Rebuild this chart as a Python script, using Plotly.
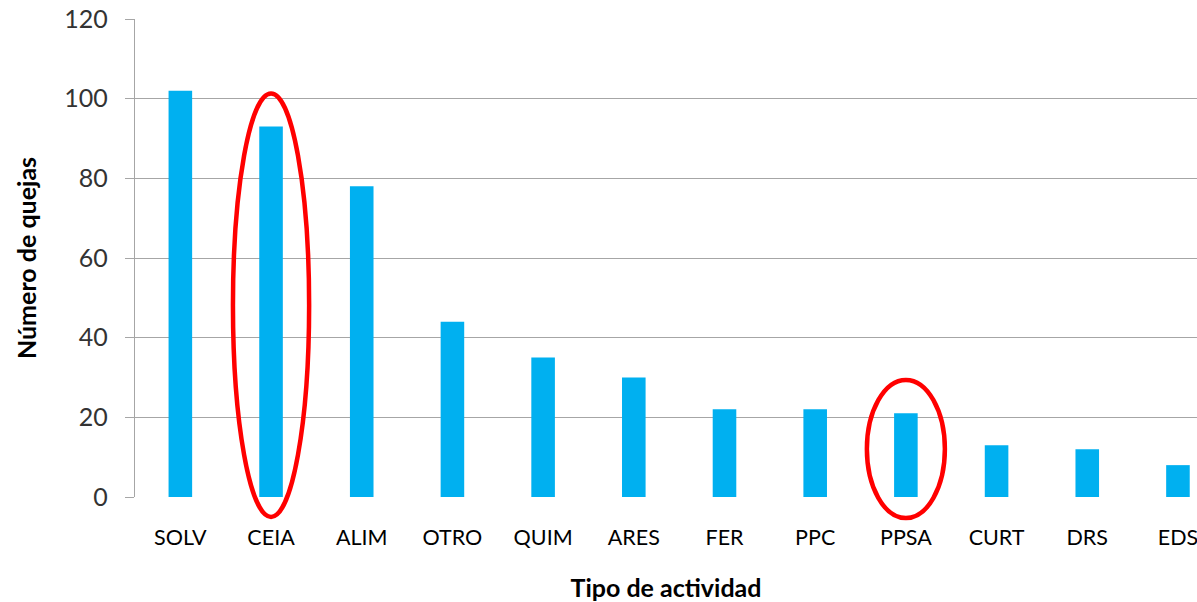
import plotly.graph_objects as go

categories = ["SOLV", "CEIA", "ALIM", "OTRO", "QUIM", "ARES", "FER", "PPC", "PPSA", "CURT", "DRS", "EDS"]
quejas = [102, 93, 78, 44, 35, 30, 22, 22, 21, 13, 12, 8]
y_ticks = [0, 20, 40, 60, 80, 100, 120]
highlighted = ["CEIA", "PPSA"]

FONT = "Lato, 'Open Sans', sans-serif"
X_RANGE = [-0.5, 11.21]
Y_RANGE = [0, 120]

fig = go.Figure(go.Bar(
    x=categories, y=quejas,
    marker=dict(color="#00B0F0", line=dict(width=0)),
    width=0.26,
))

def px_x(v):
    return (v - X_RANGE[0]) / (X_RANGE[1] - X_RANGE[0])

def px_y(v):
    return (v - Y_RANGE[0]) / (Y_RANGE[1] - Y_RANGE[0])

# highlight ellipses around selected categories (half-width in categories, y bottom, y top)
ell = {"CEIA": (0.42, -5.0, 101.3), "PPSA": (0.43, -5.3, 29.4)}
for name in highlighted:
    i = categories.index(name)
    hw, y0, y1 = ell[name]
    fig.add_shape(type="circle", xref="paper", yref="paper",
                  x0=px_x(i - hw), x1=px_x(i + hw), y0=px_y(y0), y1=px_y(y1),
                  line=dict(color="#FF0000", width=4.5), layer="above")

fig.update_layout(
    width=1197, height=602,
    margin=dict(l=135, r=0, t=19, b=105),
    plot_bgcolor="white", paper_bgcolor="white",
    showlegend=False,
    font=dict(family=FONT, color="#000000"),
    xaxis=dict(
        type="category",
        range=X_RANGE,
        automargin=False,
        showgrid=False, showline=False, ticks="",
        ticklabelstandoff=25,
        ticklabeloverflow="allow",
        tickfont=dict(size=21.5, color="#000000"),
        title=dict(text="<b>Tipo de actividad</b>", font=dict(size=25), standoff=31),
    ),
    yaxis=dict(
        range=Y_RANGE, tickvals=y_ticks,
        automargin=False,
        showgrid=True, gridcolor="#A6A6A6", gridwidth=1.3,
        showline=True, linecolor="#A6A6A6", linewidth=1.3,
        ticks="outside", ticklen=9, tickcolor="#A6A6A6", tickwidth=1.3,
        ticklabelstandoff=12,
        ticklabeloverflow="allow",
        zeroline=False,
        tickfont=dict(size=25, color="#333333"),
        title=dict(text="<b>Número de quejas</b>", font=dict(size=25), standoff=20),
    ),
)

fig.write_html(
    "out.html",
    config={"displayModeBar": False},
    post_script="document.body.style.margin='0';document.body.style.overflow='hidden';",
)
